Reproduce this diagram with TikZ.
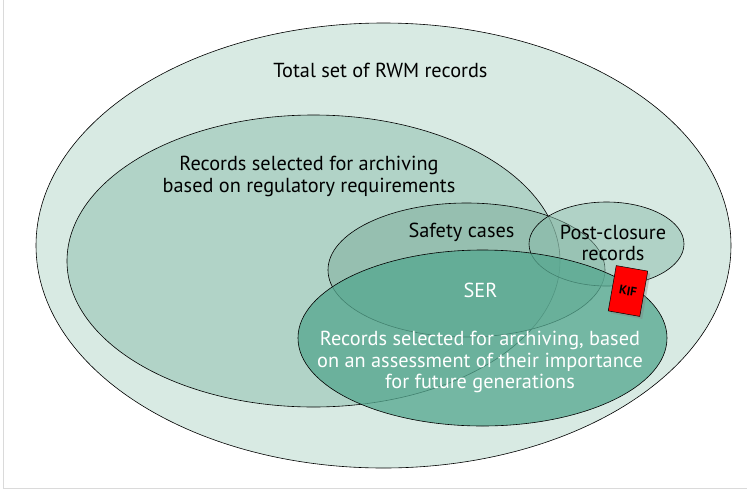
\documentclass[tikz,border=0pt]{standalone}
\usepackage{fontspec}
\setmainfont{PT Sans}
\usetikzlibrary{shapes.geometric,shadows}
\definecolor{outerfill}{HTML}{D8EAE3}
\definecolor{regfill}{HTML}{B1D3C7}
\definecolor{safefill}{RGB}{125,173,155}
\definecolor{postfill}{RGB}{138,188,171}
\definecolor{serfill}{RGB}{86,168,144}
\definecolor{cardedge}{HTML}{DADADA}
\tikzset{
  setshape/.style={ellipse, draw=black, line width=0.6pt, inner sep=0pt},
  lbl/.style={font=\fontsize{20.3}{21.5}\selectfont, align=center, inner sep=0pt},
  wlbl/.style={lbl, text=white},
  kifbox/.style={rectangle, draw=black, line width=0.5pt, fill=red, inner sep=0pt,
    minimum width=32pt, minimum height=46pt, rotate=-10,
    drop shadow={opacity=0.35, shadow xshift=2.5pt, shadow yshift=-2.5pt},
    font=\fontsize{12.5}{12.5}\selectfont\bfseries}
}
\begin{document}
\begin{tikzpicture}[x=1pt,y=1pt]
\useasboundingbox (0,0) rectangle (747,-491);
% card
\fill[white] (0,0) rectangle (747,-491);
\draw[cardedge, line width=1.5pt] (3.5,0) -- (3.5,-488.5) -- (747,-488.5);

% nested sets
\node[setshape, fill=outerfill, minimum width=695pt, minimum height=445pt] (total) at (383.5,-245.5) {};
\node[setshape, fill=regfill, minimum width=493pt, minimum height=292pt] (reg) at (313.5,-261) {};
\node[setshape, fill=safefill, fill opacity=0.5, draw opacity=1, minimum width=277pt, minimum height=134pt] (safe) at (466.5,-270) {};
\node[setshape, fill=postfill, fill opacity=0.5, draw opacity=1, minimum width=155pt, minimum height=84pt] (post) at (606.5,-244) {};
\node[setshape, fill=serfill, fill opacity=0.77, draw opacity=1, minimum width=369pt, minimum height=176pt] (ser) at (482.5,-338) {};

% labels
\node[lbl] (ttotal) at (380.5,-70) {Total set of RWM records};
\node[lbl] (treg) at (309,-176.5) {Records selected for archiving\\based on regulatory requirements};
\node[lbl] (tsafe) at (461.5,-232) {Safety cases};
\node[lbl] (tpost) at (613,-243) {Post-closure\\records};
\node[wlbl] (tser) at (480.5,-290) {SER};
\node[wlbl] (tsel) at (480,-362) {Records selected for archiving, based\\on an assessment of their importance\\for future generations};

% KIF marker
\node[kifbox] (kif) at (628,-291) {KIF};
\end{tikzpicture}
\end{document}
